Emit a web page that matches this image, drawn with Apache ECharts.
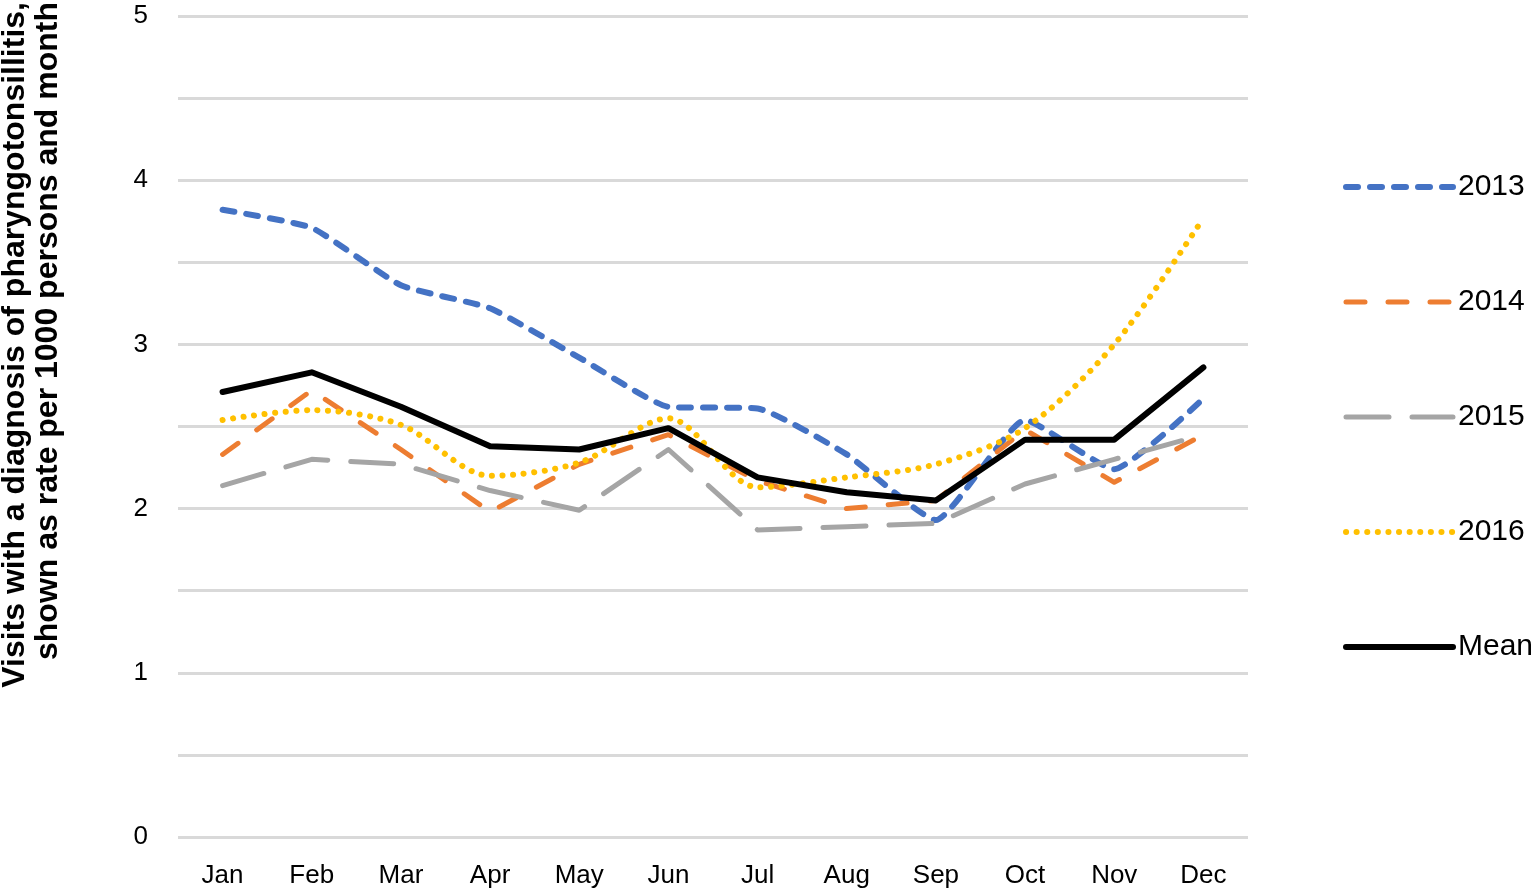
<!DOCTYPE html>
<html>
<head>
<meta charset="utf-8">
<script src="https://cdn.jsdelivr.net/npm/echarts@6/dist/echarts.min.js"></script>
<style>
html,body{margin:0;padding:0;background:#fff;}
#c{width:1536px;height:892px;}
</style>
</head>
<body>
<div id="c"></div>
<script>
const months = ['Jan','Feb','Mar','Apr','May','Jun','Jul','Aug','Sep','Oct','Nov','Dec'];
const y2013 = [3.82, 3.71, 3.36, 3.22, 2.92, 2.62, 2.61, 2.33, 1.93, 2.54, 2.24, 2.67];
const y2014 = [2.33, 2.72, 2.36, 1.98, 2.27, 2.45, 2.17, 2.00, 2.05, 2.48, 2.16, 2.45];
const y2015 = [2.14, 2.30, 2.27, 2.11, 1.99, 2.36, 1.87, 1.89, 1.91, 2.15, 2.30, 2.45];
const y2016 = [2.54, 2.60, 2.51, 2.20, 2.28, 2.55, 2.13, 2.19, 2.27, 2.49, 3.00, 3.77];
const yMean = [2.71, 2.83, 2.62, 2.38, 2.36, 2.49, 2.19, 2.10, 2.05, 2.42, 2.42, 2.86];
const yTicks = [0, 1, 2, 3, 4, 5];
const yTitle = ['Visits with a diagnosis of pharyngotonsillitis,', 'shown as rate per 1000 persons and month'];

const font = '"Liberation Sans", Arial, sans-serif';
const chart = echarts.init(document.getElementById('c'), null, {renderer: 'canvas'});

const styles = {
  '2013': {color: '#4472c4', width: 6, type: [12, 12]},
  '2014': {color: '#ed7d31', width: 5, type: [19, 23]},
  '2015': {color: '#a5a5a5', width: 5, type: [43, 23]},
  '2016': {color: '#ffc000', width: 6, type: [0.1, 10.5]},
  'Mean': {color: '#000000', width: 6, type: 'solid'}
};

function mk(name, data, smooth) {
  const s = styles[name];
  return {
    name: name, type: 'line', data: data, showSymbol: false, symbol: 'none',
    smooth: smooth || false,
    lineStyle: {color: s.color, width: s.width, type: s.type, cap: 'round', join: 'round'},
    itemStyle: {color: s.color},
    emphasis: {disabled: true}
  };
}

const legendNames = ['2013', '2014', '2015', '2016', 'Mean'];

chart.setOption({
  animation: false,
  backgroundColor: '#ffffff',
  grid: {left: 178, right: 288, top: 16, bottom: 55},
  xAxis: {
    type: 'category', data: months, boundaryGap: true,
    axisLine: {show: false}, axisTick: {show: false},
    axisLabel: {color: '#000', fontFamily: font, fontSize: 26, margin: 26}
  },
  yAxis: {
    type: 'value', min: 0, max: 5, interval: 0.5,
    axisLine: {show: false}, axisTick: {show: false},
    splitLine: {lineStyle: {color: '#d9d9d9', width: 3}},
    axisLabel: {
      color: '#000', fontFamily: font, fontSize: 26, margin: 30,
      formatter: function (v) { return yTicks.indexOf(v) >= 0 ? String(v) : ''; }
    }
  },
  legend: {
    orient: 'vertical', left: 1338, top: 167,
    itemWidth: 107, itemHeight: 30, itemGap: 85,
    itemStyle: {opacity: 0},
    textStyle: {color: '#000', fontFamily: font, fontSize: 30, lineHeight: 30},
    data: legendNames.map(function (n) {
      const s = styles[n];
      return {name: n, lineStyle: {color: s.color, width: s.width, type: s.type, cap: 'round'}, itemStyle: {opacity: 0}};
    }),
    selectedMode: false
  },
  graphic: [{
    type: 'text', x: 32, y: 2, rotation: Math.PI / 2,
    style: {
      text: yTitle.join('\n'), fill: '#000',
      font: 'bold 32px "Liberation Sans", Arial, sans-serif',
      align: 'right', verticalAlign: 'middle', lineHeight: 33
    }
  }],
  series: [
    mk('2013', y2013, 0.15),
    mk('2014', y2014, false),
    mk('2015', y2015, false),
    mk('2016', y2016, 0.3),
    mk('Mean', yMean, false)
  ]
});
</script>
</body>
</html>
